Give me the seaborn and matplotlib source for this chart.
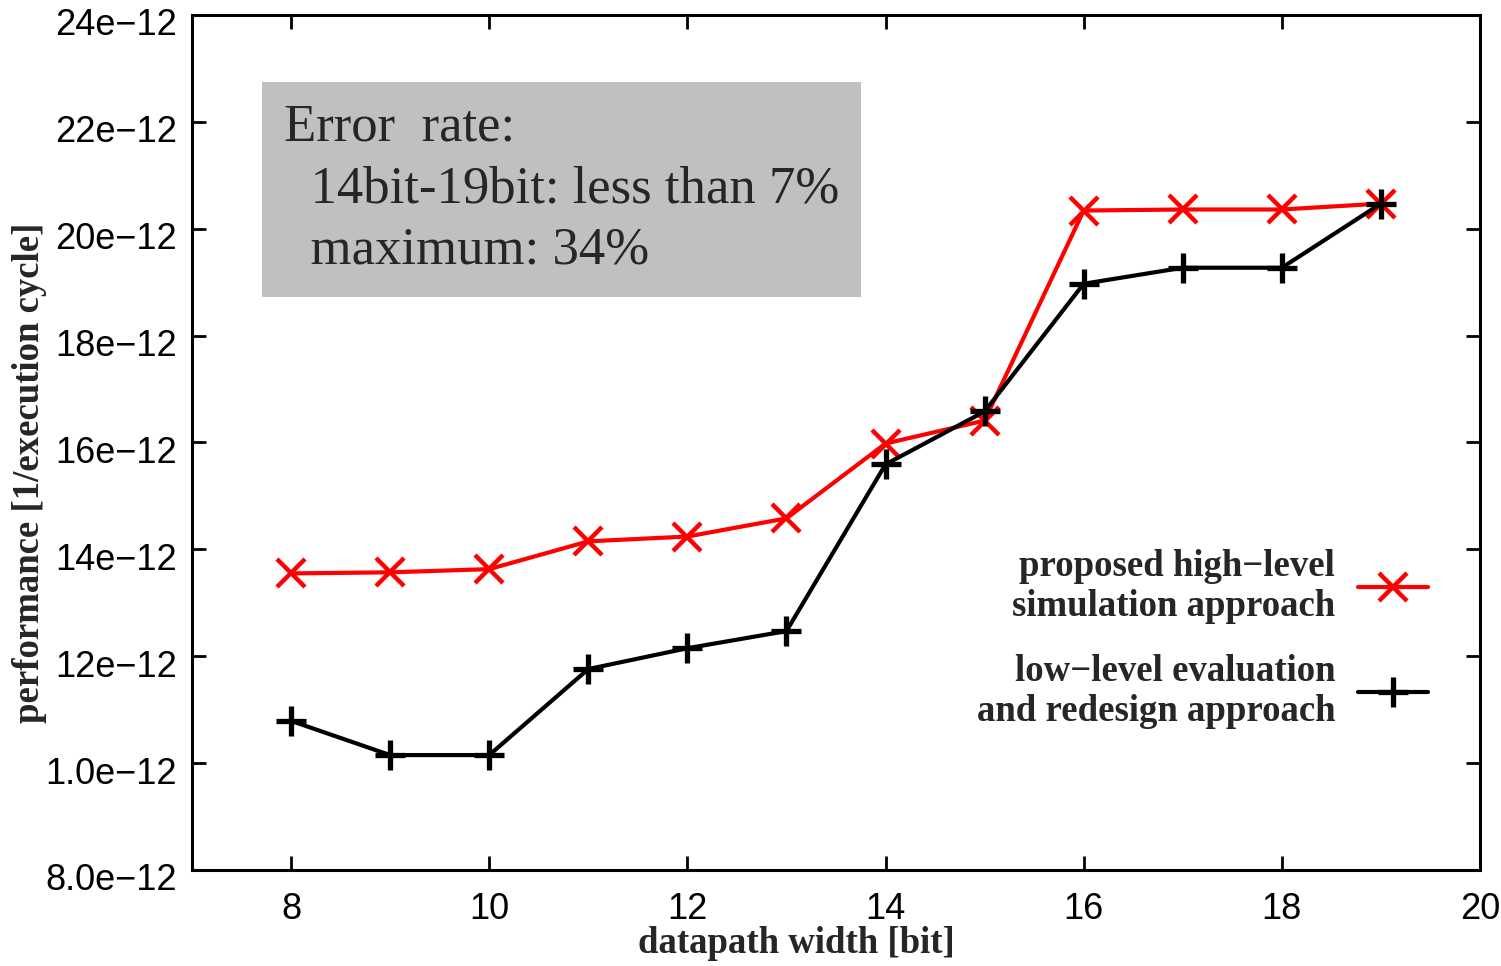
import matplotlib
matplotlib.use("Agg")
import matplotlib.pyplot as plt
import matplotlib.transforms as mtrans
import seaborn as sns
import pandas as pd

# ---- data ----
widths = [8, 9, 10, 11, 12, 13, 14, 15, 16, 17, 18, 19]
proposed = [13.55, 13.57, 13.63, 14.15, 14.24, 14.58, 15.98, 16.41, 20.34, 20.36, 20.36, 20.47]
lowlevel = [10.79, 10.15, 10.15, 11.76, 12.15, 12.47, 15.59, 16.58, 18.97, 19.27, 19.27, 20.47]
ytick_vals = [8, 10, 12, 14, 16, 18, 20, 22, 24]
ytick_labels = ["8.0e\u221212", "1.0e\u221212", "12e\u221212", "14e\u221212", "16e\u221212",
                "18e\u221212", "20e\u221212", "22e\u221212", "24e\u221212"]
xtick_vals = [8, 10, 12, 14, 16, 18, 20]
label_prop = "proposed high\u2212level\nsimulation approach"
label_low = "low\u2212level evaluation\nand redesign approach"
box_text = "Error  rate:\n  14bit-19bit: less than 7%\n  maximum: 34%"

sns.set_theme(style="white")
plt.rcParams["font.family"] = ["Liberation Sans", "DejaVu Sans"]

fig = plt.figure(figsize=(15.01, 9.66), dpi=100)
ax = fig.add_axes([0.1279, 0.0994, 0.986 - 0.1279, 0.9845 - 0.0994])

df_p = pd.DataFrame({"w": widths, "v": proposed})
df_l = pd.DataFrame({"w": widths, "v": lowlevel})

sns.lineplot(data=df_p, x="w", y="v", ax=ax, color="#ff0000", lw=3.0, marker="x",
             markersize=20, markeredgewidth=3.2, markeredgecolor="#ff0000",
             label=label_prop, zorder=3)
sns.lineplot(data=df_l, x="w", y="v", ax=ax, color="black", lw=3.0, marker="+",
             markersize=22, markeredgewidth=3.8, markeredgecolor="black",
             label=label_low, zorder=4)

ax.set_xlim(7, 20)
ax.set_ylim(8, 24)
ax.set_xticks(xtick_vals)
ax.set_xticklabels([str(v) for v in xtick_vals])
ax.set_yticks(ytick_vals)
ax.set_yticklabels(ytick_labels)

ax.tick_params(axis="both", direction="in", length=10, width=2, labelsize=26,
               top=True, right=True, bottom=True, left=True, colors="black")
ax.tick_params(axis="x", pad=16)
ax.tick_params(axis="y", pad=11)
shift = mtrans.ScaledTranslation(0, -7 / 100, fig.dpi_scale_trans)
for lab in ax.get_yticklabels():
    lab.set_transform(lab.get_transform() + shift)
for s in ax.spines.values():
    s.set_linewidth(2.2)
    s.set_color("black")

serif = ["Liberation Serif", "DejaVu Serif"]
ax.set_xlabel("datapath width [bit]", family=serif, fontweight="bold", fontsize=26.5)
ax.set_ylabel("performance [1/execution cycle]", family=serif, fontweight="bold", fontsize=26.5)
ax.xaxis.set_label_coords(0.469, -0.066)
ax.yaxis.set_label_coords(-0.1126, 0.4643)

# text box
ax.text(0.0714, 0.8959, box_text, transform=ax.transAxes, family=serif, fontsize=38,
        va="top", ha="left", linespacing=1.36,
        bbox=dict(boxstyle="square,pad=0.42", facecolor="#c0c0c0", edgecolor="none"))

leg = ax.legend(loc="lower right", bbox_to_anchor=(0.9596, 0.165), markerfirst=False, frameon=False,
                prop={"family": serif, "weight": "bold", "size": 26.5}, handlelength=1.9,
                labelspacing=0.8, handletextpad=0.62, borderpad=0, borderaxespad=0)
for t in leg.get_texts():
    t.set_multialignment("right")

fig.savefig("out.png", dpi=100)
